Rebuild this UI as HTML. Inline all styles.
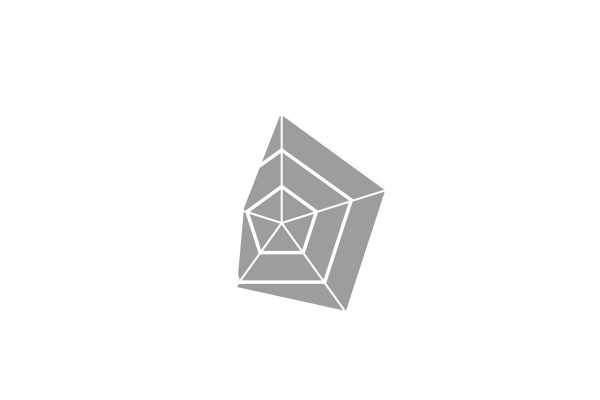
<!DOCTYPE html>
<html><head><style>html,body{margin:0;padding:0;background:#fff;width:600px;height:400px;overflow:hidden}</style></head>
<body>
<svg width="600" height="400" viewBox="0 0 600 400" xmlns="http://www.w3.org/2000/svg">
<defs><clipPath id="c"><polygon points="281,113 386,188 346,311 237,287 244,208"/></clipPath></defs>
<polygon points="281,113 386,188 346,311 237,287 244,208" fill="#9c9e9d"/>
<g clip-path="url(#c)" fill="none" stroke="#fff" stroke-linejoin="miter">
<g stroke-width="3.5">
<polygon points="281.7,186.5 316.4,211.7 303.2,252.6 260.2,252.6 247.0,211.7"/>
<polygon points="281.7,150 351.3,200.1 324.7,282.1 238.7,282.1 212.1,200.1"/>
<polygon points="281.7,113 387.3,189.7 346.9,313.8 216.5,313.8 176.1,189.7"/>
</g>
<g stroke-width="2">
<line x1="281.7" y1="223" x2="281.7" y2="113"/>
<line x1="281.7" y1="223" x2="387.3" y2="189.7"/>
<line x1="281.7" y1="223" x2="346.9" y2="313.8"/>
<line x1="281.7" y1="223" x2="216.5" y2="313.8"/>
<line x1="281.7" y1="223" x2="176.1" y2="189.7"/>
</g>
</g>
</svg>
</body></html>
